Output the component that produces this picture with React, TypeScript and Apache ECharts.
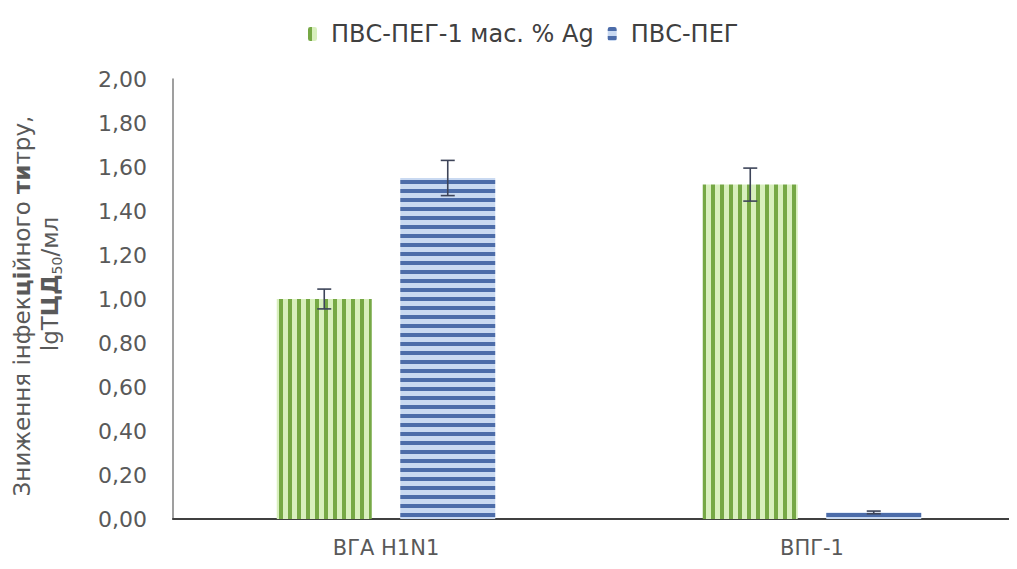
import React, { useEffect, useRef } from "react";
import * as echarts from "echarts";

const categories = ["ВГА H1N1", "ВПГ-1"];
const seriesNames = ["ПВС-ПЕГ-1 мас. % Ag", "ПВС-ПЕГ"];
const agValues = [1.0, 1.52];
const agErrors = [0.045, 0.075];
const pegValues = [1.55, 0.03];
const pegErrors = [0.08, 0.006];
const yTicks = { min: 0, max: 2, interval: 0.2 };

const FONT = "'DejaVu Sans', 'Open Sans', sans-serif";
const TEXT = "#595959";

function stripeCanvas(vertical: boolean, light: string, dark: string) {
  const c = document.createElement("canvas");
  c.width = 9;
  c.height = 9;
  const ctx = c.getContext("2d")!;
  ctx.fillStyle = light;
  ctx.fillRect(0, 0, 9, 9);
  ctx.fillStyle = dark;
  if (vertical) ctx.fillRect(0, 0, 4, 9);
  else ctx.fillRect(0, 0, 9, 4);
  return c;
}

export default function App() {
  const ref = useRef<HTMLDivElement>(null);
  useEffect(() => {
    if (!ref.current) return;
    const chart = echarts.init(ref.current, null, { renderer: "svg" });
    const greenPat = { image: stripeCanvas(true, "#d8efbd", "#76a845"), repeat: "repeat" };
    const bluePat = { image: stripeCanvas(false, "#c9d9f1", "#4c6ca9"), repeat: "repeat" };

    const barPct = 0.223;
    const gapRatio = 0.3;
    const makeErr = (vals: number[], errs: number[], sign: number) => ({
      type: "custom",
      coordinateSystem: "cartesian2d",
      z: 10,
      silent: true,
      data: vals.map((v, i) => [i, v, errs[i]]),
      encode: { x: 0, y: 1 },
      renderItem: (params: any, api: any) => {
        const cat = api.value(0);
        const v = api.value(1);
        const e = api.value(2);
        const band = api.size([1, 0])[0];
        const bw = band * barPct;
        const off = (sign * (bw * (1 + gapRatio))) / 2;
        const top = api.coord([cat, v + e]);
        const bot = api.coord([cat, v - e]);
        const x = top[0] + off;
        const cap = 7;
        const style = { stroke: "#3d4459", lineWidth: 1.6 };
        return {
          type: "group",
          children: [
            { type: "line", shape: { x1: x, y1: top[1], x2: x, y2: bot[1] }, style },
            { type: "line", shape: { x1: x - cap, y1: top[1], x2: x + cap, y2: top[1] }, style },
            { type: "line", shape: { x1: x - cap, y1: bot[1], x2: x + cap, y2: bot[1] }, style },
          ],
        };
      },
    });

    chart.setOption({
      animation: false,
      backgroundColor: "#ffffff",
      textStyle: { fontFamily: FONT },
      legend: {
        data: seriesNames,
        top: 17,
        left: 303,
        itemWidth: 9,
        itemHeight: 14,
        itemGap: 14,
        textStyle: { fontSize: 24, color: "#404040", fontFamily: FONT, padding: [0, 0, 0, 9] },
      },
      grid: { left: 173, width: 852, top: 79, bottom: 50, outerBoundsMode: "none", containLabel: false },
      xAxis: {
        type: "category",
        data: categories,
        axisLine: { lineStyle: { color: "#404040", width: 2 } },
        axisTick: { show: false },
        axisLabel: { color: TEXT, fontSize: 21, margin: 18, fontFamily: FONT },
      },
      yAxis: {
        type: "value",
        min: yTicks.min,
        max: yTicks.max,
        interval: yTicks.interval,
        splitLine: { show: false },
        axisLine: { show: true, lineStyle: { color: "#7f7f7f", width: 1.5 } },
        axisTick: { show: false },
        axisLabel: {
          color: TEXT,
          fontSize: 22,
          margin: 26,
          fontFamily: FONT,
          formatter: (v: number) => v.toFixed(2).replace(".", ","),
        },
      },
      graphic: [
        {
          type: "text",
          x: 22,
          y: 306,
          rotation: Math.PI / 2,
          style: {
            text: "Зниження інфек{b|ці}йного {b|ти}тру,",
            fill: TEXT,
            font: `23px ${FONT}`,
            align: "center",
            verticalAlign: "middle",
            rich: { b: { fontWeight: "bold", fontSize: 23, fill: TEXT, fontFamily: FONT } },
          },
        },
        {
          type: "text",
          x: 50,
          y: 284,
          rotation: Math.PI / 2,
          style: {
            text: "lgТ{b|ЦД}{s|50}/мл",
            fill: TEXT,
            font: `23px ${FONT}`,
            align: "center",
            verticalAlign: "middle",
            lineHeight: 28,
            rich: {
              b: { fontWeight: "bold", fontSize: 23, fill: TEXT, fontFamily: FONT, lineHeight: 28 },
              s: { fontSize: 14, fill: TEXT, fontFamily: FONT, lineHeight: 18, verticalAlign: "bottom" },
            },
          },
        },
      ],
      series: [
        {
          name: seriesNames[0],
          type: "bar",
          data: agValues,
          barWidth: `${barPct * 100}%`,
          barGap: `${gapRatio * 100}%`,
          itemStyle: { color: greenPat },
        },
        {
          name: seriesNames[1],
          type: "bar",
          data: pegValues,
          barWidth: `${barPct * 100}%`,
          barGap: `${gapRatio * 100}%`,
          itemStyle: { color: bluePat },
        },
        makeErr(agValues, agErrors, -1),
        makeErr(pegValues, pegErrors, 1),
      ],
    });
    return () => chart.dispose();
  }, []);
  return <div ref={ref} style={{ width: 1017, height: 569, margin: -8 }} />;
}
